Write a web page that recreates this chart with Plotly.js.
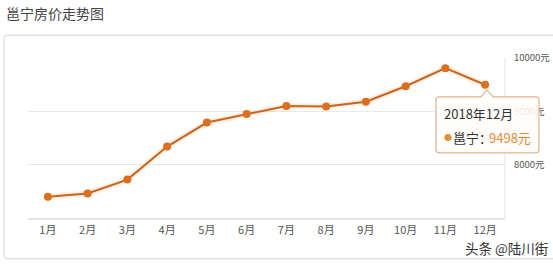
<!DOCTYPE html>
<html>
<head>
<meta charset="utf-8">
<script src="https://cdn.plot.ly/plotly-3.0.1.min.js"></script>
<style>html,body{margin:0;padding:0;background:#fff;}#chart{width:553px;height:264px;}</style>
</head>
<body>
<div id="chart"></div>
<script>
// ---- data ----
const months = ['1月','2月','3月','4月','5月','6月','7月','8月','9月','10月','11月','12月'];
const prices = [7400, 7460, 7720, 8340, 8790, 8950, 9100, 9090, 9180, 9470, 9810, 9498];
const yTickVals = [8000, 9000, 10000];
const yTickText = ['8000元', '9000元', '10000元'];
const seriesName = '邕宁';
const year = '2018';
const chartTitle = '邕宁房价走势图';
const watermark = '头条 @陆川街';

// ---- layout helpers (pixel -> paper) ----
const W = 553, H = 264;
const L = 28, R = 48, T = 58, B = 45.7;
const pw = W - L - R, ph = H - T - B;
const px = x => (x - L) / pw;
const py = y => (H - B - y) / ph;
function P(x, y) { return px(x).toFixed(5) + ',' + py(y).toFixed(5); }

// outer card (rounded, runs off right edge)
const cardPath = 'M ' + P(600,35) + ' L ' + P(8,35) + ' Q ' + P(4,35) + ' ' + P(4,39) +
  ' L ' + P(4,255) + ' Q ' + P(4,259) + ' ' + P(8,259) + ' L ' + P(600,259);

// tooltip box with notch
const bx0 = 436, bx1 = 539, by0 = 97, by1 = 153, r = 3, tipX = 487, tipY = 90, tw = 6;
const tipPath = 'M ' + P(bx0 + r, by0) + ' L ' + P(tipX - tw, by0) + ' L ' + P(tipX, tipY) +
  ' L ' + P(tipX + tw, by0) + ' L ' + P(bx1 - r, by0) + ' Q ' + P(bx1, by0) + ' ' + P(bx1, by0 + r) +
  ' L ' + P(bx1, by1 - r) + ' Q ' + P(bx1, by1) + ' ' + P(bx1 - r, by1) +
  ' L ' + P(bx0 + r, by1) + ' Q ' + P(bx0, by1) + ' ' + P(bx0, by1 - r) +
  ' L ' + P(bx0, by0 + r) + ' Q ' + P(bx0, by0) + ' ' + P(bx0 + r, by0) + ' Z';

const last = prices.length - 1;
const font = 'Noto Sans CJK SC, Noto Sans, sans-serif';

const traces = [
  { x: months, y: prices, type: 'scatter', mode: 'lines', hoverinfo: 'skip',
    line: { color: 'rgba(240,150,70,0.15)', width: 6 }, showlegend: false },
  { x: months, y: prices, type: 'scatter', mode: 'lines+markers', name: seriesName,
    line: { color: '#c8651f', width: 2 },
    marker: { color: '#dc6f1e', size: 8 }, showlegend: false }
];

const layout = {
  width: W, height: H,
  margin: { l: L, r: R, t: T, b: B },
  paper_bgcolor: '#fff', plot_bgcolor: '#fff',
  font: { family: font, color: '#555' },
  showlegend: false,
  xaxis: {
    type: 'category', range: [-0.5, 11.5], showgrid: false, zeroline: false,
    showline: true, linecolor: '#e2e2e2', linewidth: 2,
    ticks: '', tickfont: { size: 11, color: '#555', family: font }, ticklabelstandoff: 1,
    fixedrange: true
  },
  yaxis: {
    side: 'right', range: [7000, 10000], tickvals: yTickVals, ticktext: yTickText,
    showgrid: true, gridcolor: '#e8e8e8', gridwidth: 1.5, zeroline: false, showline: false,
    ticks: '', tickfont: { size: 9.5, color: '#555', family: font }, ticklabelstandoff: 8,
    fixedrange: true
  },
  shapes: [
    { type: 'path', xref: 'paper', yref: 'paper', path: cardPath, line: { color: '#dcdcdc', width: 1.2 }, layer: 'below' },
    { type: 'line', xref: 'paper', yref: 'paper', x0: 1, x1: 1, y0: 0, y1: 1, line: { color: '#ececec', width: 1.5 }, layer: 'below' },
    { type: 'path', xref: 'paper', yref: 'paper', path: tipPath, fillcolor: 'rgba(255,253,250,0.88)',
      line: { color: '#e2b28c', width: 1.2 }, layer: 'above' }
  ],
  annotations: [
    { xref: 'paper', yref: 'paper', x: px(4), y: py(13), xanchor: 'left', yanchor: 'middle',
      text: chartTitle, showarrow: false, font: { size: 14, color: '#444', family: font } },
    { xref: 'paper', yref: 'paper', x: px(442), y: py(114), xanchor: 'left', yanchor: 'middle',
      text: year + '年' + months[last], showarrow: false, font: { size: 13, color: '#333', family: font } },
    { xref: 'paper', yref: 'paper', x: px(442), y: py(138), xanchor: 'left', yanchor: 'middle',
      text: '●', showarrow: false, font: { size: 8, color: '#e0913a', family: font } },
    { xref: 'paper', yref: 'paper', x: px(451), y: py(138), xanchor: 'left', yanchor: 'middle',
      text: seriesName + '：', showarrow: false, font: { size: 13, color: '#333', family: font } },
    { xref: 'paper', yref: 'paper', x: px(487), y: py(138), xanchor: 'left', yanchor: 'middle',
      text: prices[last] + '元', showarrow: false, font: { size: 13, color: '#e0893a', family: font } },
    { xref: 'paper', yref: 'paper', x: px(550), y: py(248.5), xanchor: 'right', yanchor: 'middle',
      text: watermark, showarrow: false, font: { size: 13.5, color: '#333', family: font } }
  ]
};

Plotly.newPlot('chart', traces, layout, { displayModeBar: false, staticPlot: true });
</script>
</body>
</html>
